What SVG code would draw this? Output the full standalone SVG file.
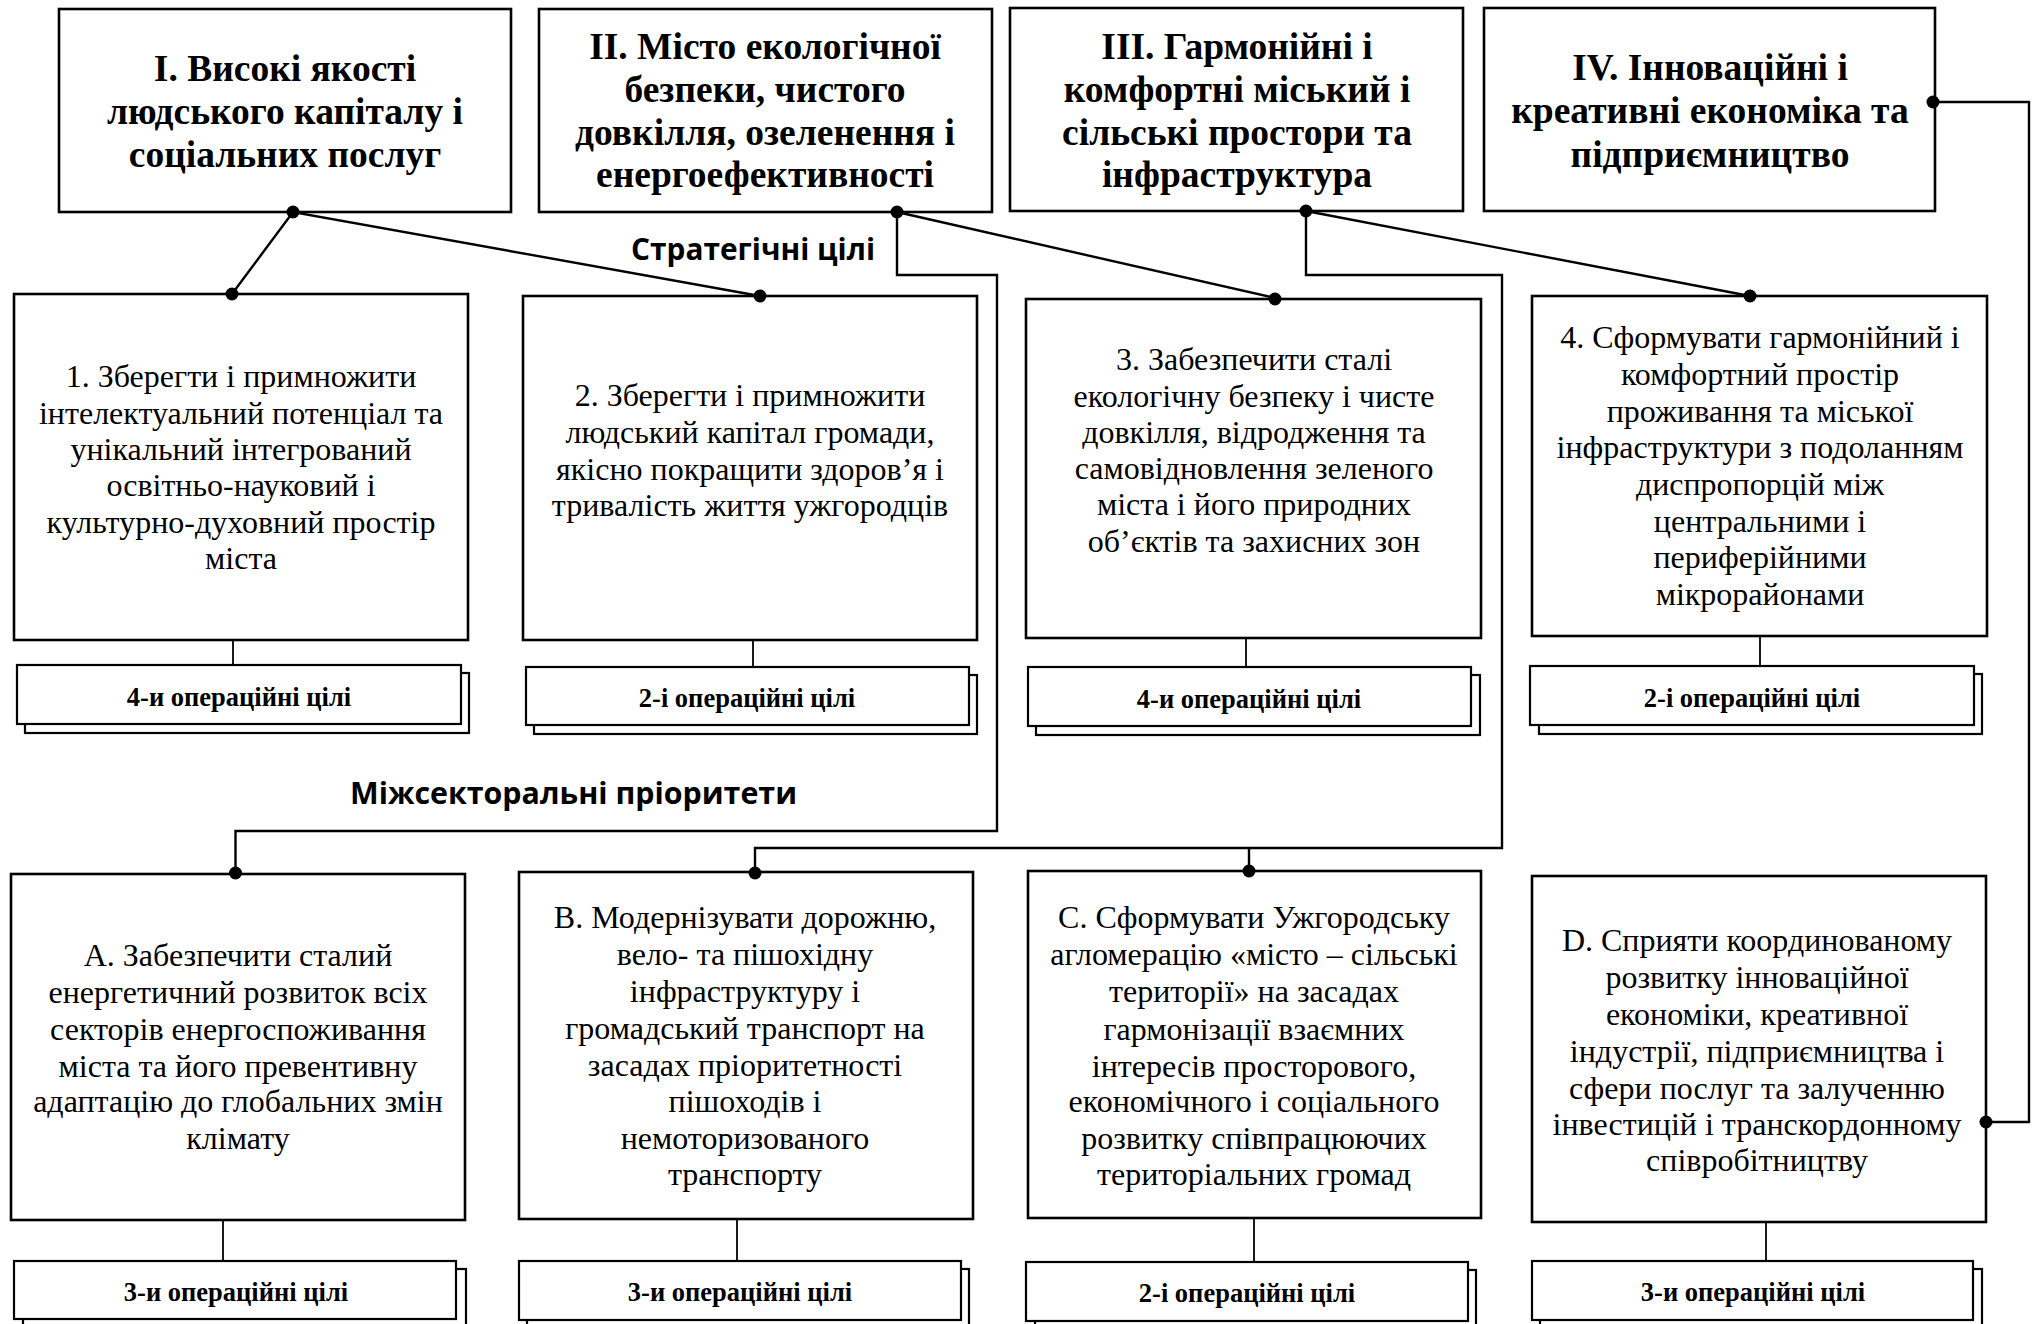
<svg xmlns="http://www.w3.org/2000/svg" width="2033" height="1324" viewBox="0 0 2033 1324">
<style>
.box{fill:#fff;stroke:#000;stroke-width:2.6}
.op{fill:#fff;stroke:#000;stroke-width:2.2}
.ln{fill:none;stroke:#000;stroke-width:2.4}
.thin{fill:none;stroke:#000;stroke-width:1.8}
.dot{fill:#000}
.t{font-family:"Liberation Serif","Times New Roman",serif;font-weight:bold;font-size:37.5px;text-anchor:middle;fill:#000}
.b{font-family:"Liberation Serif","Times New Roman",serif;font-size:32px;text-anchor:middle;fill:#000}
.o{font-family:"Liberation Serif","Times New Roman",serif;font-weight:bold;font-size:26.5px;text-anchor:middle;fill:#000}
.s{font-family:"Open Sans","Liberation Sans",sans-serif;font-weight:bold;font-size:30px;fill:#000}
</style>
<rect width="2033" height="1324" fill="#fff"/>

<g id="connectors">
<polyline class="ln" points="232,294 293,212 760,296"/>
<line class="ln" x1="897" y1="212" x2="1275" y2="298"/>
<polyline class="ln" points="897,212 897,275 997,275 997,831 235.5,831 235.5,874"/>
<line class="ln" x1="1306" y1="211" x2="1750" y2="296"/>
<polyline class="ln" points="1306,211 1306,275 1502,275 1502,848 755,848 755,872"/>
<line class="ln" x1="1249" y1="848" x2="1249" y2="871"/>
<polyline class="ln" points="1933,102 2029,102 2029,1122 1986,1122"/>
<line class="thin" x1="233" y1="640" x2="233" y2="665"/>
<line class="thin" x1="753" y1="640" x2="753" y2="667"/>
<line class="thin" x1="1246" y1="638" x2="1246" y2="667"/>
<line class="thin" x1="1760" y1="636" x2="1760" y2="666"/>
<line class="thin" x1="223" y1="1220" x2="223" y2="1261"/>
<line class="thin" x1="737" y1="1219" x2="737" y2="1261"/>
<line class="thin" x1="1254" y1="1218" x2="1254" y2="1262"/>
<line class="thin" x1="1766" y1="1222" x2="1766" y2="1261"/>
</g>

<g id="labels">
<text class="s" x="631" y="260" textLength="244" lengthAdjust="spacingAndGlyphs">Стратегічні цілі</text>
<text class="s" x="350" y="804" textLength="447" lengthAdjust="spacingAndGlyphs">Міжсекторальні пріоритети</text>
</g>

<g id="prio1">
<rect class="box" x="59" y="9" width="452" height="203"/>
<text class="t" x="285"><tspan x="285" y="81">І. Високі якості</tspan><tspan x="285" y="124">людського капіталу і</tspan><tspan x="285" y="167">соціальних послуг</tspan></text>
</g>
<g id="prio2">
<rect class="box" x="539" y="9" width="453" height="203"/>
<text class="t"><tspan x="765" y="59">ІІ. Місто екологічної</tspan><tspan x="765" y="102">безпеки, чистого</tspan><tspan x="765" y="145">довкілля, озеленення і</tspan><tspan x="765" y="187">енергоефективності</tspan></text>
</g>
<g id="prio3">
<rect class="box" x="1010" y="8" width="453" height="203"/>
<text class="t"><tspan x="1237" y="59">ІІІ. Гармонійні і</tspan><tspan x="1237" y="102">комфортні міський і</tspan><tspan x="1237" y="145">сільські простори та</tspan><tspan x="1237" y="187">інфраструктура</tspan></text>
</g>
<g id="prio4">
<rect class="box" x="1484" y="8" width="451" height="203"/>
<text class="t"><tspan x="1710" y="80">IV. Інноваційні і</tspan><tspan x="1710" y="123">креативні економіка та</tspan><tspan x="1710" y="167">підприємництво</tspan></text>
</g>

<g id="goal1">
<rect class="box" x="14" y="294" width="454" height="346"/>
<text class="b"><tspan x="241" y="387">1. Зберегти і примножити</tspan><tspan x="241" y="424">інтелектуальний потенціал та</tspan><tspan x="241" y="460">унікальний інтегрований</tspan><tspan x="241" y="496">освітньо-науковий і</tspan><tspan x="241" y="533">культурно-духовний простір</tspan><tspan x="241" y="569">міста</tspan></text>
</g>
<g id="goal2">
<rect class="box" x="523" y="296" width="454" height="344"/>
<text class="b"><tspan x="750" y="406">2. Зберегти і примножити</tspan><tspan x="750" y="443">людський капітал громади,</tspan><tspan x="750" y="480">якісно покращити здоров’я і</tspan><tspan x="750" y="516">тривалість життя ужгородців</tspan></text>
</g>
<g id="goal3">
<rect class="box" x="1026" y="299" width="455" height="339"/>
<text class="b"><tspan x="1254" y="370">3. Забезпечити сталі</tspan><tspan x="1254" y="407">екологічну безпеку і чисте</tspan><tspan x="1254" y="443">довкілля, відродження та</tspan><tspan x="1254" y="479">самовідновлення зеленого</tspan><tspan x="1254" y="515">міста і його природних</tspan><tspan x="1254" y="552">об’єктів та захисних зон</tspan></text>
</g>
<g id="goal4">
<rect class="box" x="1532" y="296" width="455" height="340"/>
<text class="b"><tspan x="1760" y="348">4. Сформувати гармонійний і</tspan><tspan x="1760" y="385">комфортний простір</tspan><tspan x="1760" y="422">проживання та міської</tspan><tspan x="1760" y="458">інфраструктури з подоланням</tspan><tspan x="1760" y="495">диспропорцій між</tspan><tspan x="1760" y="532">центральними і</tspan><tspan x="1760" y="568">периферійними</tspan><tspan x="1760" y="605">мікрорайонами</tspan></text>
</g>

<g id="op1">
<rect class="op" x="25" y="673" width="444" height="60"/>
<rect class="op" x="17" y="665" width="444" height="59"/>
<text class="o" x="239" y="706">4-и операційні цілі</text>
</g>
<g id="op2">
<rect class="op" x="534" y="675" width="443" height="59"/>
<rect class="op" x="526" y="667" width="443" height="58"/>
<text class="o" x="747" y="707">2-і операційні цілі</text>
</g>
<g id="op3">
<rect class="op" x="1036" y="675" width="444" height="60"/>
<rect class="op" x="1028" y="667" width="443" height="59"/>
<text class="o" x="1249" y="708">4-и операційні цілі</text>
</g>
<g id="op4">
<rect class="op" x="1539" y="674" width="443" height="60"/>
<rect class="op" x="1530" y="666" width="444" height="59"/>
<text class="o" x="1752" y="707">2-і операційні цілі</text>
</g>

<g id="prioA">
<rect class="box" x="11" y="874" width="454" height="346"/>
<text class="b"><tspan x="238" y="966">А. Забезпечити сталий</tspan><tspan x="238" y="1003">енергетичний розвиток всіх</tspan><tspan x="238" y="1040">секторів енергоспоживання</tspan><tspan x="238" y="1077">міста та його превентивну</tspan><tspan x="238" y="1112">адаптацію до глобальних змін</tspan><tspan x="238" y="1149">клімату</tspan></text>
</g>
<g id="prioB">
<rect class="box" x="519" y="872" width="454" height="347"/>
<text class="b"><tspan x="745" y="928">В. Модернізувати дорожню,</tspan><tspan x="745" y="965">вело- та пішохідну</tspan><tspan x="745" y="1002">інфраструктуру і</tspan><tspan x="745" y="1039">громадський транспорт на</tspan><tspan x="745" y="1076">засадах пріоритетності</tspan><tspan x="745" y="1112">пішоходів і</tspan><tspan x="745" y="1149">немоторизованого</tspan><tspan x="745" y="1185">транспорту</tspan></text>
</g>
<g id="prioC">
<rect class="box" x="1028" y="871" width="453" height="347"/>
<text class="b"><tspan x="1254" y="928">С. Сформувати Ужгородську</tspan><tspan x="1254" y="965">агломерацію «місто – сільські</tspan><tspan x="1254" y="1002">території» на засадах</tspan><tspan x="1254" y="1040">гармонізації взаємних</tspan><tspan x="1254" y="1077">інтересів просторового,</tspan><tspan x="1254" y="1112">економічного і соціального</tspan><tspan x="1254" y="1149">розвитку співпрацюючих</tspan><tspan x="1254" y="1185">територіальних громад</tspan></text>
</g>
<g id="prioD">
<rect class="box" x="1532" y="876" width="454" height="346"/>
<text class="b"><tspan x="1757" y="951">D. Сприяти координованому</tspan><tspan x="1757" y="988">розвитку інноваційної</tspan><tspan x="1757" y="1025">економіки, креативної</tspan><tspan x="1757" y="1062">індустрії, підприємництва і</tspan><tspan x="1757" y="1099">сфери послуг та залученню</tspan><tspan x="1757" y="1135">інвестицій і транскордонному</tspan><tspan x="1757" y="1171">співробітництву</tspan></text>
</g>

<g id="opA">
<rect class="op" x="23" y="1269" width="443" height="62"/>
<rect class="op" x="14" y="1261" width="442" height="58"/>
<text class="o" x="236" y="1301">3-и операційні цілі</text>
</g>
<g id="opB">
<rect class="op" x="527" y="1269" width="442" height="62"/>
<rect class="op" x="519" y="1261" width="442" height="59"/>
<text class="o" x="740" y="1301">3-и операційні цілі</text>
</g>
<g id="opC">
<rect class="op" x="1035" y="1270" width="441" height="62"/>
<rect class="op" x="1026" y="1262" width="442" height="59"/>
<text class="o" x="1247" y="1302">2-і операційні цілі</text>
</g>
<g id="opD">
<rect class="op" x="1540" y="1269" width="442" height="62"/>
<rect class="op" x="1532" y="1261" width="441" height="59"/>
<text class="o" x="1753" y="1301">3-и операційні цілі</text>
</g>

<g id="dots">
<circle class="dot" cx="293" cy="212" r="6.5"/>
<circle class="dot" cx="232" cy="294" r="6.5"/>
<circle class="dot" cx="760" cy="296" r="6.5"/>
<circle class="dot" cx="897" cy="212" r="6.5"/>
<circle class="dot" cx="1275" cy="299" r="6.5"/>
<circle class="dot" cx="1306" cy="211" r="6.5"/>
<circle class="dot" cx="1750" cy="296" r="6.5"/>
<circle class="dot" cx="1933" cy="102" r="6.5"/>
<circle class="dot" cx="235.5" cy="873" r="6.5"/>
<circle class="dot" cx="755" cy="873" r="6.5"/>
<circle class="dot" cx="1249" cy="871" r="6.5"/>
<circle class="dot" cx="1986" cy="1122" r="6.5"/>
</g>
</svg>
